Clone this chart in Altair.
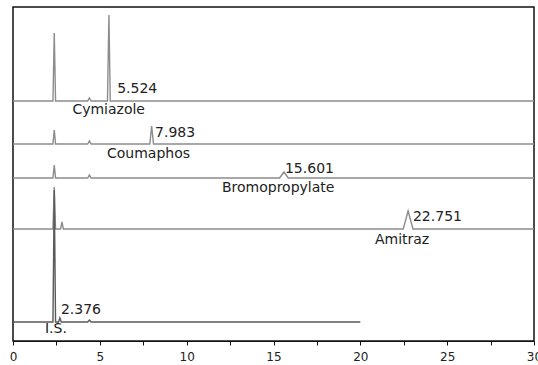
import altair as alt
import pandas as pd

# Chromatogram traces (retention time in min, signal in arbitrary offset units)
cym_t = [0, 2.30, 2.376, 2.45, 4.30, 4.40, 4.50, 5.44, 5.524, 5.60, 30]
cym_y = [240, 240, 308, 240, 240, 243, 240, 240, 326, 240, 240]

cou_t = [0, 2.30, 2.376, 2.45, 4.30, 4.40, 4.50, 7.88, 7.983, 8.09, 30]
cou_y = [197, 197, 211, 197, 197, 200, 197, 197, 215, 197, 197]

bro_t = [0, 2.30, 2.376, 2.45, 4.30, 4.40, 4.50, 15.35, 15.601, 15.85, 30]
bro_y = [163, 163, 176, 163, 163, 166, 163, 163, 169, 163, 163]

ami_t = [0, 2.30, 2.376, 2.45, 2.74, 2.82, 2.90, 22.47, 22.751, 23.03, 30]
ami_y = [112, 112, 154, 112, 112, 119, 112, 112, 130, 112, 112]

is_t = [0, 2.30, 2.376, 2.45, 2.62, 2.70, 2.78, 4.30, 4.40, 4.50, 20]
is_y = [19, 19, 151, 19, 19, 23, 19, 19, 21, 19, 19]

trace_names = ["Cymiazole", "Coumaphos", "Bromopropylate", "Amitraz", "I.S."]
trace_colors = ["#8c8c8c", "#8c8c8c", "#8c8c8c", "#8c8c8c", "#5a5a5a"]

# Annotations
label_text = ["5.524", "Cymiazole", "7.983", "Coumaphos", "15.601", "Bromopropylate",
              "22.751", "Amitraz", "2.376", "I.S."]
label_t = [6.00, 3.42, 8.18, 5.41, 15.66, 12.03, 23.03, 20.84, 2.76, 1.84]
label_y = [252, 231, 208, 187, 172, 153, 124, 101, 31, 12]

x_ticks = [0, 2.5, 5, 7.5, 10, 12.5, 15, 17.5, 20, 22.5, 25, 27.5, 30]

rows = []
for name, ts, ys in zip(trace_names, [cym_t, cou_t, bro_t, ami_t, is_t],
                        [cym_y, cou_y, bro_y, ami_y, is_y]):
    for i, (t, y) in enumerate(zip(ts, ys)):
        rows.append({"trace": name, "t": t, "s": y, "i": i})
df = pd.DataFrame(rows)

lab = pd.DataFrame({"text": label_text, "t": label_t, "s": label_y})

xscale = alt.Scale(domain=[0, 30], nice=False, zero=False)
yscale = alt.Scale(domain=[0, 334], nice=False, zero=False)

lines = alt.Chart(df).mark_line(strokeWidth=1.4, clip=True).encode(
    x=alt.X("t:Q", scale=xscale,
            axis=alt.Axis(values=x_ticks, title=None, grid=False,
                          labelExpr="datum.value % 5 == 0 ? datum.label : ''",
                          format="d", tickSize=4, tickColor="#111",
                          domainColor="#111", domainWidth=1.2, tickWidth=1,
                          labelFont="DejaVu Sans", labelFontSize=12,
                          labelColor="#222", labelPadding=6,
                          labelFlush=False, labelOverlap=False, labelBound=False)),
    y=alt.Y("s:Q", scale=yscale, axis=None),
    color=alt.Color("trace:N", scale=alt.Scale(domain=trace_names, range=trace_colors),
                    legend=None),
    detail="trace:N",
    order="i:Q",
)

texts = alt.Chart(lab).mark_text(align="left", baseline="middle", font="DejaVu Sans",
                                 fontSize=14, color="#222").encode(
    x=alt.X("t:Q", scale=xscale),
    y=alt.Y("s:Q", scale=yscale),
    text="text:N",
)

chart = alt.layer(lines, texts).properties(
    width=521, height=334,
    padding={"left": 13, "top": 7, "right": 4, "bottom": 24},
    autosize="none",
).configure_view(stroke="#111", strokeWidth=1.5)

chart.save("out.html", embed_options={"renderer": "svg", "actions": False})
